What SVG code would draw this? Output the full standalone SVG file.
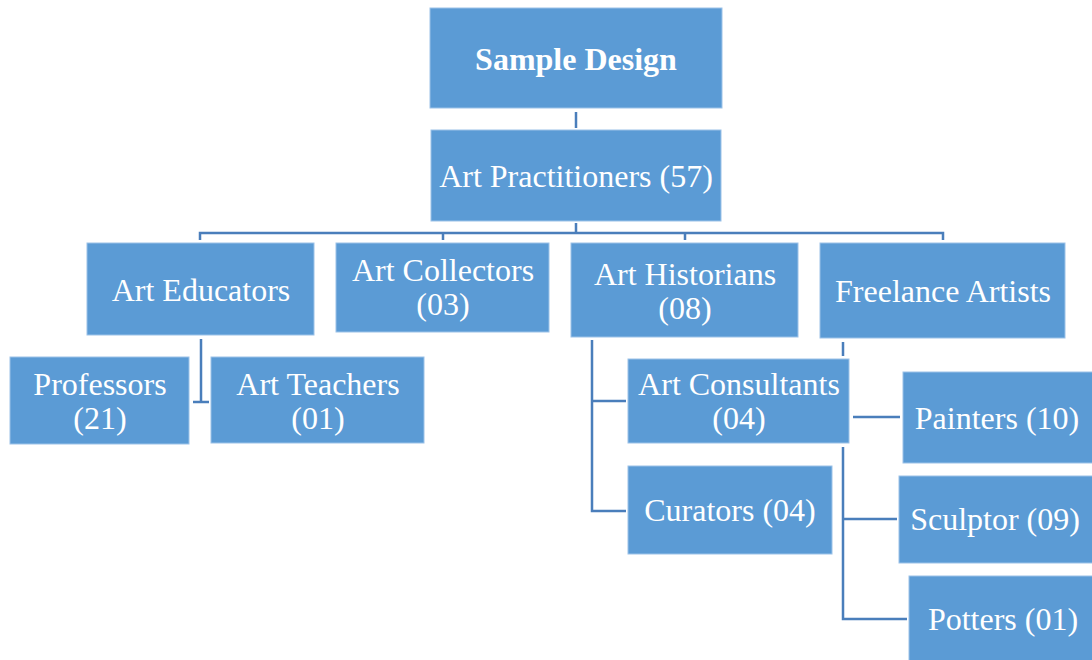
<svg xmlns="http://www.w3.org/2000/svg" width="1092" height="660" viewBox="0 0 1092 660">
<style>
.box{fill:#5b9bd5;stroke:#9cc2e8;stroke-width:1}
.t{font-size:32px;fill:#ffffff;text-anchor:middle}
.b{font-weight:bold}
.c{fill:none;stroke:#4a7ebb;stroke-width:2.5}
</style>
<rect width="1092" height="660" fill="#ffffff"/>
<g id="connectors">
<path class="c" d="M576,112V128"/>
<path class="c" d="M576,223V233M200,240V233H943V240M443,233V240M685,233V240"/>
<path class="c" d="M201,339V402M193,402H209"/>
<path class="c" d="M592,340V511H626M592,401H626"/>
<path class="c" d="M843,342V356M853,417H900M843,447V619H907M843,519H897"/>
</g>
<g font-family="Liberation Serif, Times New Roman, serif">
<g id="sample-design"><rect class="box" x="430" y="8" width="292" height="100"/><text class="t b" x="576" y="70" font-size="33">Sample Design</text></g>
<g id="art-practitioners"><rect class="box" x="431" y="130" width="290" height="91"/><text class="t" x="576" y="187" font-size="33">Art Practitioners (57)</text></g>
<g id="art-educators"><rect class="box" x="87" y="243" width="227" height="92"/><text class="t" x="201" y="301">Art Educators</text></g>
<g id="art-collectors"><rect class="box" x="336" y="243" width="213" height="89"/><text class="t" x="443" y="281">Art Collectors</text><text class="t" x="443" y="315">(03)</text></g>
<g id="art-historians"><rect class="box" x="571" y="243" width="227" height="94"/><text class="t" x="685" y="285">Art Historians</text><text class="t" x="685" y="319">(08)</text></g>
<g id="freelance-artists"><rect class="box" x="820" y="243" width="245" height="95"/><text class="t" x="943" y="302">Freelance Artists</text></g>
<g id="professors"><rect class="box" x="10" y="357" width="179" height="87"/><text class="t" x="100" y="395">Professors</text><text class="t" x="100" y="429">(21)</text></g>
<g id="art-teachers"><rect class="box" x="211" y="357" width="213" height="86"/><text class="t" x="318" y="395">Art Teachers</text><text class="t" x="318" y="429">(01)</text></g>
<g id="art-consultants"><rect class="box" x="628" y="359" width="221" height="84"/><text class="t" x="739" y="395">Art Consultants</text><text class="t" x="739" y="429">(04)</text></g>
<g id="curators"><rect class="box" x="628" y="466" width="204" height="88"/><text class="t" x="730" y="521">Curators (04)</text></g>
<g id="painters"><rect class="box" x="903" y="372" width="190" height="91"/><text class="t" x="997" y="429">Painters (10)</text></g>
<g id="sculptor"><rect class="box" x="899" y="476" width="194" height="87"/><text class="t" x="995" y="530">Sculptor (09)</text></g>
<g id="potters"><rect class="box" x="909" y="576" width="184" height="85"/><text class="t" x="1003" y="630">Potters (01)</text></g>
</g>
</svg>
